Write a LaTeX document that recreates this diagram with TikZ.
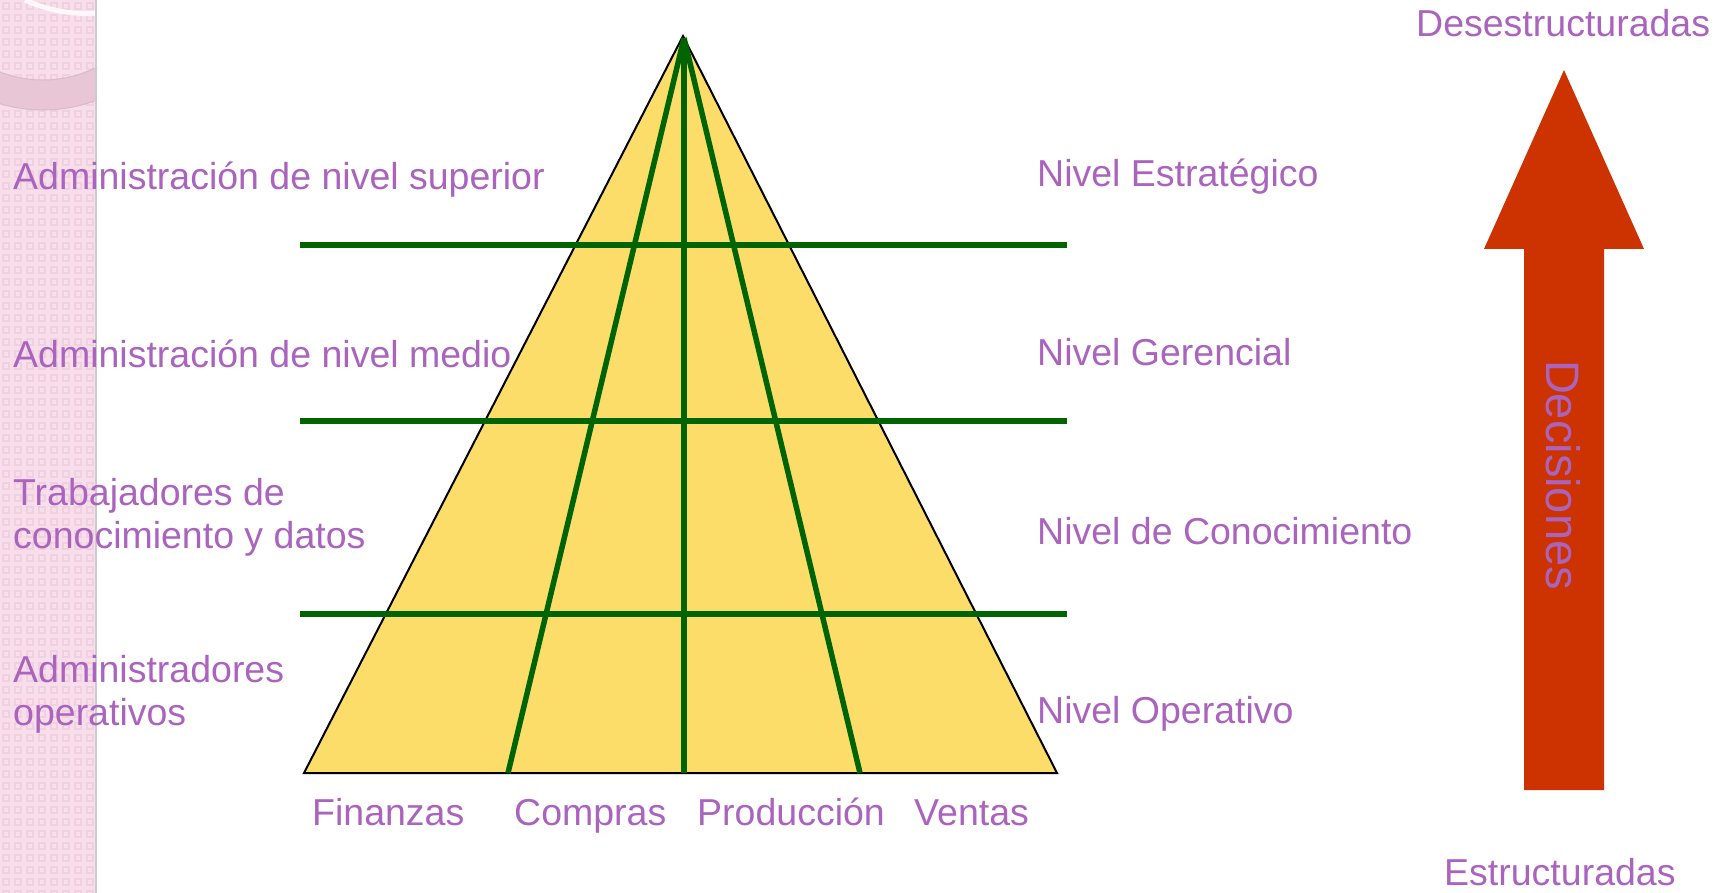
\documentclass[tikz,border=0pt]{standalone}
\usepackage{fontspec}
\setmainfont{Liberation Sans}
\definecolor{lila}{RGB}{170,100,190}
\definecolor{amarillo}{RGB}{253,221,106}
\definecolor{verde}{RGB}{0,100,0}
\definecolor{rojo}{RGB}{204,51,0}
\definecolor{rosa}{RGB}{247,222,234}
\definecolor{rosaosc}{RGB}{238,208,222}
\definecolor{anillo}{RGB}{232,198,214}

\begin{document}
\begin{tikzpicture}[x=1pt,y=-1pt,
    rotulo/.style={anchor=base west,inner sep=0pt,text=lila,font=\fontsize{37.5}{43}\selectfont},
    linea/.style={verde,line width=5.5pt}]
    \useasboundingbox (0,0) rectangle (1725,893);
    % franja rosa de la izquierda
    \fill[rosa] (0,0) rectangle (97,893);
    \foreach \x in {0,1,...,7}
    \foreach \y in {0,1,...,74}
    {
        \draw[rosaosc,line width=2.5pt] (\x*12+6,\y*12+6) +(-3,-3) rectangle ++(3,3);
    }
    \begin{scope}
        \clip (0,0) rectangle (97,893);
        \draw[anillo,line width=30pt] (43,-39) circle (134);
        \draw[anillo!85!gray,line width=1pt] (43,-39) circle (119);
        \draw[anillo!85!gray,line width=1pt] (43,-39) circle (149);
        \draw[white,opacity=0.8,line width=5pt] (25,0) .. controls (50,12) and (80,15) .. (97,13);
    \end{scope}
    \draw[black!20,line width=2pt] (96,0) -- (96,893);
    % piramide
    \coordinate (cima) at (683,36);
    \coordinate (vert) at (684,38);
    \coordinate (bi) at (304,773);
    \coordinate (bd) at (1057,773);
    \filldraw[fill=amarillo,draw=black,line width=2pt] (cima) -- (bi) -- (bd) -- cycle;
    \foreach \b [count=\i] in {508,684,860}
    {
        \coordinate (pie\i) at (\b,773);
        \draw[linea] (vert) -- (pie\i);
    }
    \foreach \h [count=\i] in {245,421,614}
    {
        \coordinate (izq\i) at (300,\h);
        \coordinate (der\i) at (1067,\h);
        \draw[linea] (izq\i) -- (der\i);
    }
    % flecha de decisiones
    \fill[rojo] (1564,70) -- (1644,249) -- (1604,249) -- (1604,790) -- (1524,790) -- (1524,249) -- (1484,249) -- cycle;
    \node[rotulo,font=\fontsize{47}{50}\selectfont,rotate=-90,anchor=base] (dec) at (1546,475) {Decisiones};
    % textos de la izquierda
    \node[rotulo] (sup) at (13,190) {Administración de nivel superior};
    \node[rotulo] (med) at (13,367) {Administración de nivel medio};
    \node[rotulo] (tra1) at (13,505) {Trabajadores de};
    \node[rotulo] (tra2) at (13,548) {conocimiento y datos};
    \node[rotulo] (ope1) at (13,682) {Administradores};
    \node[rotulo] (ope2) at (13,725) {operativos};
    % niveles
    \node[rotulo] (est) at (1037,187) {Nivel Estratégico};
    \node[rotulo] (ger) at (1037,366) {Nivel Gerencial};
    \node[rotulo] (con) at (1037,544) {Nivel de Conocimiento};
    \node[rotulo] (opn) at (1037,723) {Nivel Operativo};
    % areas
    \node[rotulo] (fin) at (312,825) {Finanzas};
    \node[rotulo] (com) at (514,825) {Compras};
    \node[rotulo] (pro) at (697,825) {Producción};
    \node[rotulo] (ven) at (914,825) {Ventas};
    % tipos de decision
    \node[rotulo] (des) at (1416,37) {Desestructuradas};
    \node[rotulo] (estr) at (1444,885) {Estructuradas};
\end{tikzpicture}
\end{document}
